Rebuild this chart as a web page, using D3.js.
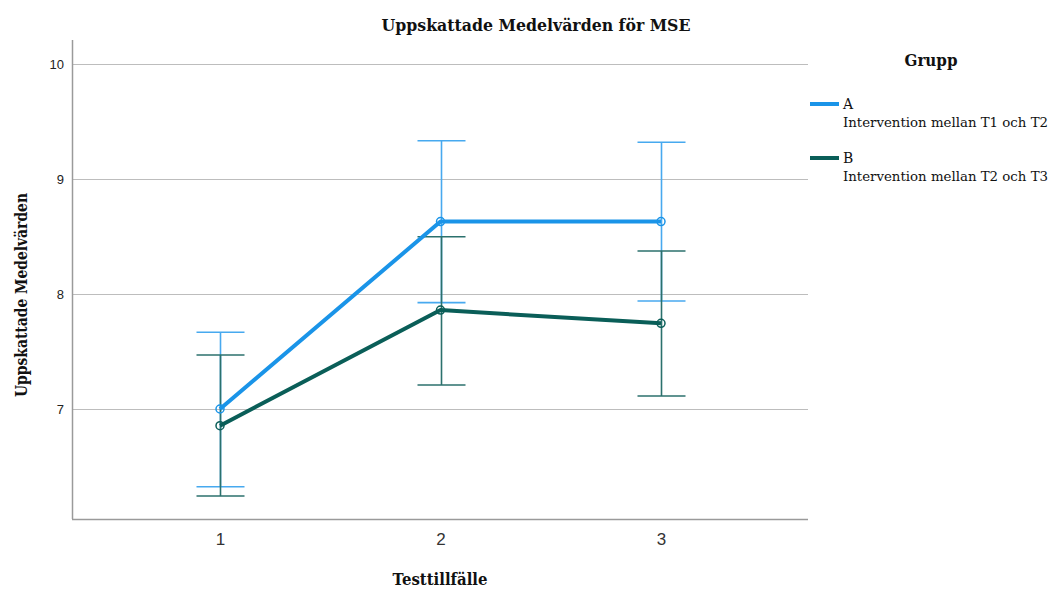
<!DOCTYPE html>
<html>
<head>
<meta charset="utf-8">
<script src="https://cdn.jsdelivr.net/npm/d3@7"></script>
<style>
  html, body { margin: 0; padding: 0; background: #fff; }
  svg { display: block; }
</style>
</head>
<body>
<svg id="chart" width="1053" height="590"></svg>
<script>
// Test occasions on the x axis
const occasions = [1, 2, 3];
// Estimated marginal means per group
const meanA = [7.00, 8.63, 8.63];
const meanB = [6.855, 7.86, 7.745];
// 95% confidence interval bounds
const lowerA = [6.324, 7.925, 7.939];
const upperA = [7.667, 9.333, 9.319];
const lowerB = [6.243, 7.209, 7.113];
const upperB = [7.470, 8.498, 8.374];
// Y axis ticks
const yTicks = [7, 8, 9, 10];
// Legend entries
const groupNames = ["A", "B"];
const groupLabels = ["Intervention mellan T1 och T2", "Intervention mellan T2 och T3"];

const svg = d3.select("#chart");
const plotLeft = 73, plotRight = 808, plotTop = 40, plotBottom = 519;

const x = d3.scaleLinear().domain([1 - 2 / 3, 3 + 2 / 3]).range([plotLeft, plotRight]);
// 115 px per unit; value 10 sits 24 px below the plot top
const y = d3.scaleLinear()
  .domain([10 - (plotBottom - plotTop - 24) / 115, 10 + 24 / 115])
  .range([plotBottom, plotTop]);

// Gridlines
svg.append("g")
  .selectAll("line")
  .data(yTicks)
  .join("line")
  .attr("x1", plotLeft).attr("x2", plotRight)
  .attr("y1", d => Math.round(y(d)) + 0.5).attr("y2", d => Math.round(y(d)) + 0.5)
  .attr("stroke", "#bdbdbd").attr("stroke-width", 1.2);

// Axes
const yAxis = d3.axisLeft(y).tickValues(yTicks).tickSize(0).tickPadding(9).tickFormat(d3.format("d"));
const gy = svg.append("g").attr("transform", `translate(${plotLeft},0)`).call(yAxis);
gy.select(".domain").remove();
gy.selectAll("text").attr("font-family", "Liberation Sans, Arial, sans-serif").attr("font-size", 13).attr("fill", "#222");

const xAxis = d3.axisBottom(x).tickValues(occasions).tickSize(0).tickPadding(14).tickFormat(d3.format("d"));
const gx = svg.append("g").attr("transform", `translate(0,${plotBottom})`).call(xAxis);
gx.select(".domain").remove();
gx.selectAll("text").attr("font-family", "Liberation Sans, Arial, sans-serif").attr("font-size", 17).attr("fill", "#333");

// Frame lines (left and bottom)
svg.append("line").attr("x1", plotLeft - 0.5).attr("x2", plotLeft - 0.5).attr("y1", plotTop).attr("y2", plotBottom)
  .attr("stroke", "#9a9a9a").attr("stroke-width", 1.5);
svg.append("line").attr("x1", plotLeft - 1).attr("x2", plotRight).attr("y1", plotBottom + 0.5).attr("y2", plotBottom + 0.5)
  .attr("stroke", "#9a9a9a").attr("stroke-width", 1.5);

const groups = [
  { name: "A", mean: meanA, lo: lowerA, hi: upperA, line: "#1a94e8", bar: "#47a9ef" },
  { name: "B", mean: meanB, lo: lowerB, hi: upperB, line: "#0a5e58", bar: "#2b716d" }
];

const capHalf = 24;
// Error bars, group B drawn over A
groups.forEach(g => {
  const eb = svg.append("g").attr("stroke", g.bar).attr("stroke-width", 1.6).attr("fill", "none");
  occasions.forEach((o, i) => {
    const cx = Math.round(x(o)) + 0.5;
    eb.append("line").attr("x1", cx).attr("x2", cx).attr("y1", y(g.hi[i])).attr("y2", y(g.lo[i]));
    eb.append("line").attr("x1", cx - capHalf).attr("x2", cx + capHalf).attr("y1", y(g.hi[i])).attr("y2", y(g.hi[i]));
    eb.append("line").attr("x1", cx - capHalf).attr("x2", cx + capHalf).attr("y1", y(g.lo[i])).attr("y2", y(g.lo[i]));
  });
});

const line = d3.line().x((d, i) => x(occasions[i])).y(d => y(d));
groups.forEach(g => {
  svg.append("path").datum(g.mean).attr("d", line)
    .attr("fill", "none").attr("stroke", g.line).attr("stroke-width", 4).attr("stroke-linejoin", "round");
  svg.append("g").selectAll("circle").data(g.mean).join("circle")
    .attr("cx", (d, i) => x(occasions[i])).attr("cy", d => y(d)).attr("r", 4)
    .attr("fill", "none").attr("stroke", g.line).attr("stroke-width", 1.5);
});

// Titles
const serif = "DejaVu Serif, Liberation Serif, serif";
function title(sel, width) {
  return sel.attr("font-family", serif).attr("font-weight", "bold").attr("fill", "#111")
    .attr("textLength", width).attr("lengthAdjust", "spacingAndGlyphs");
}
title(svg.append("text").attr("x", 536).attr("y", 31).attr("text-anchor", "middle").attr("font-size", 17), 309)
  .text("Uppskattade Medelvärden för MSE");
title(svg.append("text").attr("x", 440).attr("y", 585).attr("text-anchor", "middle").attr("font-size", 17), 95)
  .text("Testtillfälle");
title(svg.append("text").attr("transform", "translate(27,295) rotate(-90)").attr("text-anchor", "middle").attr("font-size", 16), 204)
  .text("Uppskattade Medelvärden");

// Legend
title(svg.append("text").attr("x", 931).attr("y", 66).attr("text-anchor", "middle").attr("font-size", 17), 53)
  .text("Grupp");
groups.forEach((g, i) => {
  const ly = 104 + i * 54;
  svg.append("line").attr("x1", 810).attr("x2", 839).attr("y1", ly).attr("y2", ly)
    .attr("stroke", g.line).attr("stroke-width", 4);
  svg.append("text").attr("x", 843).attr("y", ly + 5)
    .attr("font-family", serif).attr("font-size", 14).attr("fill", "#111").text(groupNames[i]);
  svg.append("text").attr("x", 843).attr("y", ly + 23)
    .attr("font-family", serif).attr("font-size", 13).attr("fill", "#111")
    .attr("textLength", 205).attr("lengthAdjust", "spacingAndGlyphs").text(groupLabels[i]);
});
</script>
</body>
</html>
